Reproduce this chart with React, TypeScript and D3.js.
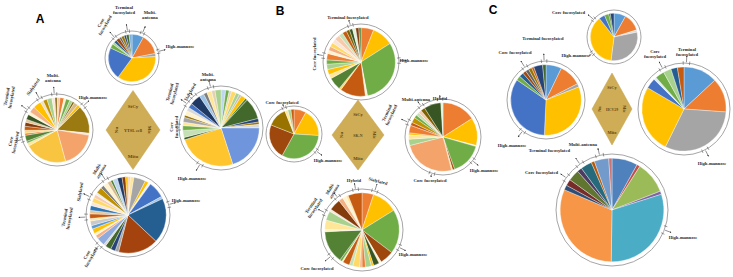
import React from "react";
import * as d3 from "d3";

// ---------------- data (slice values, read clockwise from 12 o'clock) ----------------
const aTopValues = [8, 14, 2, 36, 22, 3, 1.5, 2, 2.5, 1.5, 2, 1.5, 2, 2];
const aLeftValues = [1.5, 2, 1, 2, 1.5, 1, 2, 1.5, 14, 1, 18, 21, 1.5, 1, 3, 1, 1.5, 2, 2, 1.5, 2.5, 1.5, 3, 4, 1.5, 2, 2.5, 1.5, 1];
const aRightValues = [2, 1.5, 1, 2, 1.5, 1, 2, 1, 9, 1.5, 1, 1.5, 20, 25, 1, 3, 2, 1.5, 2, 1, 2, 1.5, 2, 4.5, 2, 1.5, 2, 1.5, 2.5];
const aBottomValues = [1, 1.5, 5, 1.5, 1, 7, 1, 19, 17, 1.5, 2, 2.5, 1, 3.5, 1.5, 1, 2, 1.5, 2, 1, 2, 1.5, 2, 1.5, 2, 1.5, 1, 2.5, 1.5, 2, 1.5, 1, 2, 2, 1.5, 1];

const bTopValues = [6, 10, 31, 1, 12, 1, 6, 2, 2.5, 2.5, 2, 3, 1.5, 2, 2, 2, 2.5, 2, 2, 1.5, 1.5, 1.5, 1.5, 1];
const bLeftValues = [8, 18, 32, 23, 13, 2, 2, 2];
const bRightValues = [16, 13, 0.5, 15, 1, 0.5, 25, 3, 2, 1, 3.5, 1.5, 2.5, 1.5, 1.5, 1.5, 2, 8, 1];
const bBottomValues = [5, 11, 19, 6, 1, 2.5, 1, 2.5, 1.5, 1, 3, 1.5, 3, 0.5, 1, 14, 1, 4, 4, 1, 5, 2, 1.5, 1, 6];

const cTopValues = [8, 12, 1.5, 30, 37, 4, 3, 1, 2.5];
const cLeftValues = [7, 10, 1.5, 31, 33, 2, 2, 1.5, 1.5, 1.5, 1, 4, 1.5];
const cRightValues = [13, 13, 31, 26, 4, 1, 3.5, 3, 2.5, 2.5];
const cBottomValues = [8, 1, 10, 1, 30, 31, 1.5, 2, 3.5, 1.5, 3.5, 1, 4.5, 1];

const panelLetters = ["A", "B", "C"];
const cellLines = ["YTSL cell", "SK-N", "HCV29"];
const diamondTop = "StCy";
const diamondBottom = "Mito";
const diamondLeft = "Nu";
const diamondRight = "Mic";

// ---------------- styles ----------------
const aTopColors = ["#5B9BD5", "#ED7D31", "#A5A5A5", "#FFC000", "#4472C4", "#70AD47", "#A9D18E", "#255E91", "#9E480E", "#636363", "#997300", "#264478", "#43682B", "#7CAFDD"];
const aLeftColors = ["#F8CBAD", "#ED7D31", "#FFF2CC", "#70AD47", "#A9D18E", "#7F6000", "#D6B98C", "#FFC000", "#9C7A12", "#FBE5D6", "#F4A46A", "#F9C440",
  "#FFE699", "#70AD47", "#548235", "#ED7D31", "#FFD966", "#C55A11", "#843C0C", "#E2C799", "#375623", "#FFF2CC", "#F4B183", "#FFC000", "#EDE0C8", "#BF9000", "#A9D18E", "#FCE4D6", "#7F6000"];
const aRightColors = ["#BDD7EE", "#70AD47", "#E2D2B0", "#FFD966", "#A9D18E", "#BFBFBF", "#FFC000", "#548235",
  "#43682B", "#264478", "#997300", "#D9D9D9", "#6F96DC", "#FFC52F",
  "#375623", "#C5E0B4", "#70AD47", "#FFE699", "#A5A5A5", "#997300", "#FFF2CC", "#D9D9D9", "#4472C4", "#203864", "#9DC3E6", "#7F7F7F", "#FFE699", "#E2D2B0", "#A9D18E"];
const aBottomColors = ["#F8CBAD", "#FFE699", "#A5A5A5", "#FFC000", "#F2F2F2", "#4472C4", "#9DC3E6", "#255E91", "#A5430E",
  "#A5A5A5", "#264478", "#43682B", "#D9D9D9", "#8FAADC", "#F4B183", "#FFF2CC", "#FFC000", "#5B9BD5", "#C9C9C9", "#FFE699", "#C55A11", "#E2C799", "#2E75B6",
  "#FBE5D6", "#FFD966", "#F8CBAD", "#EDEDED", "#BF9000", "#7F7F7F", "#FFF2CC", "#D6B98C", "#548235", "#BDD7EE", "#1F3864", "#843C0C", "#FFC000"];

const bTopColors = ["#ED7D31", "#FFC000", "#70AD47", "#FFF2CC", "#C55A11", "#FFD966", "#548235",
  "#FFE699", "#FFC000", "#A9D18E", "#70AD47", "#ED7D31", "#FFF2CC", "#F4B183", "#FFD966", "#FBE5D6", "#F8CBAD", "#C5E0B4", "#C55A11", "#7F6000", "#375623", "#E2F0D9", "#843C0C", "#548235"];
const bLeftColors = ["#ED7D31", "#FFC000", "#70AD47", "#9E480E", "#997300", "#FFE699", "#A9D18E", "#C55A11"];
const bRightColors = ["#ED7D31", "#FFC000", "#FFF2CC", "#70AD47", "#9E480E", "#FFD966", "#F4A46A",
  "#A9D18E", "#FFE699", "#FFC000", "#ED7D31", "#C55A11", "#BF9000", "#70AD47", "#C5E0B4", "#F8CBAD", "#7F6000", "#375623", "#E2F0D9"];
const bBottomColors = ["#ED7D31", "#FFC000", "#70AD47", "#9E480E",
  "#FFF2CC", "#375623", "#FFC000", "#A9D18E", "#ED7D31", "#F4B183", "#FFD966", "#C5E0B4", "#C55A11", "#FFE699", "#70AD47",
  "#548235", "#FFF2CC", "#FFE699", "#A9D18E", "#FBE5D6", "#843C0C", "#F4B183", "#FFF2CC", "#FFE699", "#C55A11"];

const cTopColors = ["#5B9BD5", "#ED7D31", "#D9D9D9", "#A5A5A5", "#FFC000", "#4472C4", "#70AD47", "#43682B", "#264478"];
const cLeftColors = ["#5B9BD5", "#ED7D31", "#A5A5A5", "#FFC000", "#4472C4", "#70AD47", "#255E91", "#9E480E", "#636363", "#997300", "#C55A11", "#264478", "#43682B"];
const cRightColors = ["#5B9BD5", "#ED7D31", "#A5A5A5", "#FFC000", "#4472C4", "#DEEBF7", "#70AD47", "#A9D18E", "#255E91", "#C55A11"];
const cBottomColors = ["#4F81BD", "#C0504D", "#9BBB59", "#8064A2", "#4BACC6", "#F79646", "#2C4D75", "#772C2A", "#5F7530", "#4D3B62", "#276A7C", "#B65708", "#729ACA", "#CD7371"];

// ---------------- layout ----------------
type Label = { lines: string[]; x: number; y: number; rot?: number; anchor?: string };
type PieSpec = { cx: number; cy: number; R: number; values: number[]; colors: string[]; labels: Label[] };

const pies: PieSpec[] = [
  { cx: 132, cy: 58, R: 27, values: aTopValues, colors: aTopColors, labels: [
    { lines: ["Core", "fucosylated"], x: 103, y: 24, rot: -60 },
    { lines: ["Terminal", "fucosylated"], x: 124, y: 10 },
    { lines: ["Multi-", "antenna"], x: 150, y: 15 },
    { lines: ["High-mannose"], x: 180, y: 46 },
  ] },
  { cx: 57, cy: 130, R: 36, values: aLeftValues, colors: aLeftColors, labels: [
    { lines: ["Multi-", "antenna"], x: 53, y: 78 },
    { lines: ["Sialylated"], x: 33, y: 87, rot: -55 },
    { lines: ["Terminal", "fucosylated"], x: 9, y: 97, rot: -80 },
    { lines: ["High-mannose"], x: 93, y: 97 },
    { lines: ["Core", "fucosylated"], x: 13, y: 142, rot: -78 },
  ] },
  { cx: 221, cy: 128, R: 42, values: aRightValues, colors: aRightColors, labels: [
    { lines: ["Multi-", "antenna"], x: 208, y: 77 },
    { lines: ["Sialylated"], x: 190, y: 92, rot: -60 },
    { lines: ["Terminal", "fucosylated"], x: 172, y: 93, rot: -75 },
    { lines: ["Core", "fucosylated"], x: 174, y: 127, rot: -90 },
    { lines: ["High-mannose"], x: 192, y: 178 },
  ] },
  { cx: 128, cy: 215, R: 42, values: aBottomValues, colors: aBottomColors, labels: [
    { lines: ["Multi-", "antenna"], x: 99, y: 170, rot: -60 },
    { lines: ["Sialylated"], x: 80, y: 192, rot: -80 },
    { lines: ["Terminal", "fucosylated"], x: 67, y: 218, rot: -80 },
    { lines: ["Core", "fucosylated"], x: 89, y: 256, rot: -60 },
    { lines: ["High-mannose"], x: 186, y: 200 },
  ] },
  { cx: 361, cy: 62, R: 38, values: bTopValues, colors: bTopColors, labels: [
    { lines: ["Terminal fucosylated"], x: 348, y: 17 },
    { lines: ["Core fucosylated"], x: 314, y: 54, rot: -90 },
    { lines: ["High-mannose"], x: 414, y: 60 },
  ] },
  { cx: 294, cy: 134, R: 28, values: bLeftValues, colors: bLeftColors, labels: [
    { lines: ["Core fucosylated"], x: 282, y: 102 },
    { lines: ["High-mannose"], x: 328, y: 160 },
  ] },
  { cx: 443, cy: 137, R: 38, values: bRightValues, colors: bRightColors, labels: [
    { lines: ["Hybrid"], x: 440, y: 98 },
    { lines: ["Multi-antenna"], x: 416, y: 99 },
    { lines: ["Terminal", "fucosylated"], x: 389, y: 114, rot: -65 },
    { lines: ["High-mannose"], x: 484, y: 170 },
    { lines: ["Core fucosylated"], x: 430, y: 180 },
  ] },
  { cx: 362, cy: 230, R: 41, values: bBottomValues, colors: bBottomColors, labels: [
    { lines: ["Sialylated"], x: 378, y: 181, rot: 15 },
    { lines: ["Hybrid"], x: 354, y: 180 },
    { lines: ["Multi-", "antenna"], x: 332, y: 190, rot: -60 },
    { lines: ["Terminal", "fucosylated"], x: 313, y: 207, rot: -55 },
    { lines: ["High-mannose"], x: 413, y: 254 },
    { lines: ["Core fucosylated"], x: 317, y: 268 },
  ] },
  { cx: 614, cy: 37, R: 27, values: cTopValues, colors: cTopColors, labels: [
    { lines: ["Core fucosylated"], x: 585, y: 12, anchor: "end" },
    { lines: ["High-mannose"], x: 590, y: 55, anchor: "end" },
  ] },
  { cx: 546, cy: 100, R: 39, values: cLeftValues, colors: cLeftColors, labels: [
    { lines: ["Terminal fucosylated"], x: 543, y: 38 },
    { lines: ["Core fucosylated"], x: 515, y: 52 },
    { lines: ["High-mannose"], x: 512, y: 145 },
  ] },
  { cx: 684, cy: 109, R: 46, values: cRightValues, colors: cRightColors, labels: [
    { lines: ["Core", "fucosylated"], x: 655, y: 54 },
    { lines: ["Terminal", "fucosylated"], x: 687, y: 52 },
    { lines: ["High-mannose"], x: 712, y: 163 },
  ] },
  { cx: 612, cy: 210, R: 56, values: cBottomValues, colors: cBottomColors, labels: [
    { lines: ["Multi-antenna"], x: 597, y: 144, anchor: "end" },
    { lines: ["Terminal fucosylated"], x: 570, y: 150, anchor: "end" },
    { lines: ["Core fucosylated"], x: 558, y: 172, anchor: "end" },
    { lines: ["High-mannose"], x: 683, y: 237 },
  ] },
];

const diamonds = [
  { cx: 133, cy: 130, w: 27, h: 39.5, fs: 5 },
  { cx: 358, cy: 135, w: 26, h: 35, fs: 4.6 },
  { cx: 612, cy: 109, w: 20, h: 36, fs: 4.4 },
];
const letterPos = [
  { x: 40, y: 23 },
  { x: 280, y: 15 },
  { x: 493, y: 14 },
];

const FONT = "'Liberation Serif', 'Times New Roman', serif";

function PieChart({ spec }: { spec: PieSpec }) {
  const { cx, cy, R, values, colors, labels } = spec;
  const r = R - 2.5 - R * 0.03;
  const pieGen = d3.pie<number>().sort(null).value((d) => d);
  const arcs = pieGen(values);
  const arcGen = d3.arc<d3.PieArcDatum<number>>().innerRadius(0).outerRadius(r);
  const ticks: number[] = [];
  labels.forEach((l) => {
    const a = Math.atan2(l.x - cx, -(l.y - cy));
    ticks.push(a - 0.07, a + 0.07);
  });
  return (
    <g>
      <g transform={`translate(${cx},${cy})`}>
        {arcs.map((a, i) => (
          <path key={i} d={arcGen(a) || ""} fill={colors[i % colors.length]} stroke="#ffffff" strokeWidth={0.35} />
        ))}
        <circle r={R} fill="none" stroke="#9b9b9b" strokeWidth={0.9} />
        {ticks.map((t, i) => (
          <line key={i} x1={Math.sin(t) * (R - 1.8)} y1={-Math.cos(t) * (R - 1.8)} x2={Math.sin(t) * (R + 1.8)} y2={-Math.cos(t) * (R + 1.8)} stroke="#555" strokeWidth={0.6} />
        ))}
      </g>
      {labels.map((l, i) => {
        const a = Math.atan2(l.x - cx, -(l.y - cy));
        const dist = Math.hypot(l.x - cx, l.y - cy);
        const len = Math.max(3, Math.min(6.5, dist - R - 4));
        const x1 = cx + Math.sin(a) * (R + 0.8);
        const y1 = cy - Math.cos(a) * (R + 0.8);
        const x2 = cx + Math.sin(a) * (R + 0.8 + len);
        const y2 = cy - Math.cos(a) * (R + 0.8 + len);
        const n = l.lines.length;
        const lh = 5;
        return (
          <g key={i}>
            <line x1={x1} y1={y1} x2={x2} y2={y2} stroke="#333" strokeWidth={0.55} markerEnd="url(#arr)" />
            <text
              transform={`translate(${l.x},${l.y}) rotate(${l.rot || 0})`}
              textAnchor={l.anchor || "middle"}
              fontFamily={FONT}
              fontWeight="bold"
              fontSize={4.6}
              fill="#2b2b2b"
            >
              {l.lines.map((s, j) => (
                <tspan key={j} x={0} y={(j - (n - 1) / 2) * lh + 1.6}>{s}</tspan>
              ))}
            </text>
          </g>
        );
      })}
    </g>
  );
}

function Diamond({ d, label }: { d: { cx: number; cy: number; w: number; h: number; fs: number }; label: string }) {
  const { cx, cy, w, h, fs } = d;
  const pts = [[cx, cy - h], [cx + w, cy], [cx, cy + h], [cx - w, cy]].map((p) => p.join(",")).join(" ");
  const txt = { fontFamily: FONT, fontWeight: "bold" as const, fontSize: fs, fill: "#5e4714", textAnchor: "middle" as const };
  return (
    <g>
      <polygon points={pts} fill="#cfad56" stroke="#c4a24c" strokeWidth={0.5} />
      <text x={cx} y={cy - h * 0.6 + fs * 0.35} {...txt}>{diamondTop}</text>
      <text x={cx} y={cy + fs * 0.35} {...txt} fontSize={fs * 0.85}>{label}</text>
      <text x={cx} y={cy + h * 0.66 + fs * 0.35} {...txt}>{diamondBottom}</text>
      <text transform={`translate(${cx - w * 0.63},${cy}) rotate(-90)`} y={fs * 0.35} {...txt}>{diamondLeft}</text>
      <text transform={`translate(${cx + w * 0.63},${cy}) rotate(90)`} y={fs * 0.35} {...txt}>{diamondRight}</text>
    </g>
  );
}

export default function App() {
  return (
    <svg width={733} height={277} viewBox="0 0 733 277" style={{ position: "absolute", left: 0, top: 0, background: "#fff" }}>
      <defs>
        <marker id="arr" viewBox="0 0 6 6" refX={5} refY={3} markerWidth={3.2} markerHeight={3.2} orient="auto">
          <path d="M0,0 L6,3 L0,6 z" fill="#333" />
        </marker>
      </defs>
      <rect width={733} height={277} fill="#fff" />
      {pies.map((p, i) => (
        <PieChart key={i} spec={p} />
      ))}
      {diamonds.map((d, i) => (
        <Diamond key={i} d={d} label={cellLines[i]} />
      ))}
      {panelLetters.map((t, i) => (
        <text key={t} x={letterPos[i].x} y={letterPos[i].y} textAnchor="middle" fontFamily="'Liberation Sans', Arial, sans-serif" fontWeight="bold" fontSize={12} fill="#000">
          {t}
        </text>
      ))}
    </svg>
  );
}
